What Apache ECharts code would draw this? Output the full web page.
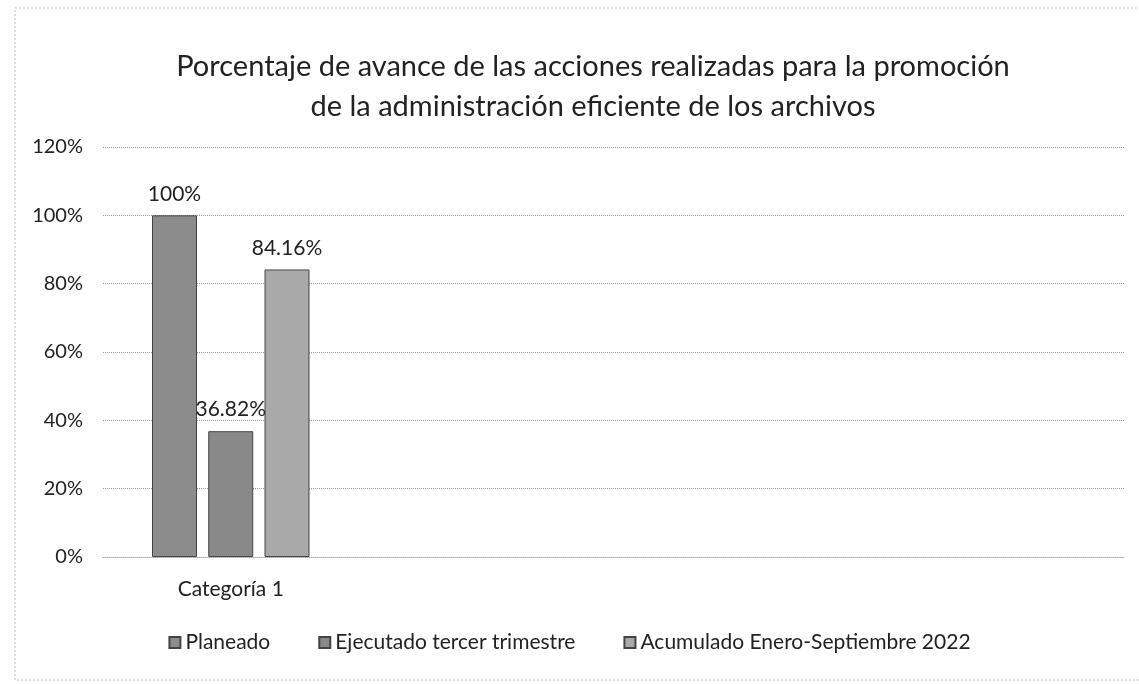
<!DOCTYPE html>
<html>
<head>
<meta charset="utf-8">
<script src="https://cdn.jsdelivr.net/npm/echarts@6/dist/echarts.min.js"></script>
<style>
html, body { margin: 0; padding: 0; background: #fff; }
#main { width: 1139px; height: 684px; }
</style>
</head>
<body>
<div id="main"></div>
<script>
var categories = ['Categoría 1', '', '', ''];
var seriesNames = ['Planeado', 'Ejecutado tercer trimestre', 'Acumulado Enero-Septiembre 2022'];
var planeado = [100, null, null, null];
var ejecutado = [36.82, null, null, null];
var acumulado = [84.16, null, null, null];
var labels = ['100%', '36.82%', '84.16%'];

var colors = ['#8c8c8c', '#898989', '#a9a9a9'];
var font = 'Lato, "Open Sans", sans-serif';

var chart = echarts.init(document.getElementById('main'));

function barSeries(i, data) {
    return {
        name: seriesNames[i],
        type: 'bar',
        data: data,
        barWidth: 45,
        barGap: '25%',
        itemStyle: { color: colors[i], borderColor: '#444', borderWidth: 1 },
        label: {
            show: true,
            position: 'top',
            distance: 11,
            color: '#222',
            fontSize: 21,
            fontFamily: font,
            formatter: function () { return labels[i]; }
        }
    };
}

var option = {
    backgroundColor: '#fff',
    animation: false,
    title: {
        text: 'Porcentaje de avance de las acciones realizadas para la promoción\nde la administración eficiente de los archivos',
        left: 588,
        textAlign: 'center',
        top: 42,
        textStyle: { fontSize: 29, fontWeight: 'normal', color: '#222', fontFamily: font, lineHeight: 40 }
    },
    legend: {
        bottom: 26,
        left: 'center',
        itemWidth: 11,
        itemHeight: 11,
        itemGap: 48,
        icon: 'rect',
        textStyle: { fontSize: 21, color: '#222', fontFamily: font },
        data: seriesNames
    },
    grid: { left: 103, right: 14, top: 147, bottom: 127 },
    xAxis: {
        type: 'category',
        data: categories,
        axisTick: { show: false },
        axisLine: { lineStyle: { color: '#aaa', type: 'dotted' } },
        axisLabel: { color: '#222', fontSize: 21, fontFamily: font, margin: 22 }
    },
    yAxis: {
        type: 'value',
        min: 0,
        max: 120,
        interval: 20,
        axisLine: { show: false },
        axisTick: { show: false },
        axisLabel: { formatter: '{value}%', color: '#222', fontSize: 20, fontFamily: font, margin: 20 },
        splitLine: { lineStyle: { color: '#999', type: 'dotted' } }
    },
    graphic: [{
        type: 'rect',
        shape: { x: 15, y: 8, width: 1140, height: 672 },
        style: { fill: 'none', stroke: '#bbb', lineWidth: 1, lineDash: [2, 2] },
        silent: true
    }],
    series: [
        barSeries(0, planeado),
        barSeries(1, ejecutado),
        barSeries(2, acumulado)
    ]
};

chart.setOption(option);
</script>
</body>
</html>
